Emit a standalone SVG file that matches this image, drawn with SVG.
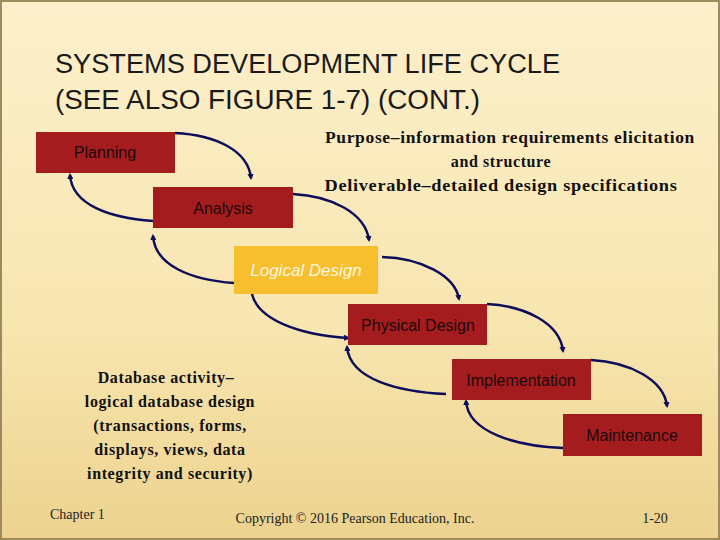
<svg xmlns="http://www.w3.org/2000/svg" width="720" height="540" viewBox="0 0 720 540">
<defs>
<linearGradient id="bg" x1="0" y1="0" x2="0" y2="1"><stop offset="0" stop-color="#fcf0cc"/><stop offset="0.6" stop-color="#f8e6b0"/><stop offset="1" stop-color="#ecd28e"/></linearGradient>
<marker id="ah" viewBox="0 0 6 6" refX="4" refY="3" markerWidth="2.5" markerHeight="2.5" orient="auto"><path d="M0,0 L6,3 L0,6 z" fill="#0d0d5c"/></marker>
<style>
.box{fill:#a51c1f}
.lbl{font-family:"Liberation Sans",Arial,sans-serif;font-size:16px;fill:#1a0a0a;text-anchor:middle}
.ser{font-family:"Liberation Serif","Times New Roman",serif;font-size:16px;font-weight:bold;fill:#111;text-anchor:middle;letter-spacing:0.6px}
.c{fill:none;stroke:#0d0d5c;stroke-width:2.5;marker-end:url(#ah)}
</style>
</defs>
<rect width="720" height="540" fill="url(#bg)"/>
<rect x="1" y="1" width="718" height="538" fill="none" stroke="#9c8a60" stroke-width="2"/>
<text x="55" y="73" font-family="'Liberation Sans',Arial,sans-serif" font-size="27" fill="#1a1a1a" textLength="505" lengthAdjust="spacingAndGlyphs">SYSTEMS DEVELOPMENT LIFE CYCLE</text>
<text x="55" y="109" font-family="'Liberation Sans',Arial,sans-serif" font-size="27" fill="#1a1a1a" textLength="425" lengthAdjust="spacingAndGlyphs">(SEE ALSO FIGURE 1-7) (CONT.)</text>
<g id="connectors">
<path class="c" d="M175,133 C215,135 248,150 251,178"/>
<path class="c" d="M153,221 C110,218 72,205 70,175"/>
<path class="c" d="M293,194 C330,196 365,212 369,240"/>
<path class="c" d="M234,283 C190,280 155,265 153,236"/>
<path class="c" d="M382,257 C420,258 455,275 459,299"/>
<path class="c" d="M252,294 C258,320 300,335 348,338"/>
<path class="c" d="M487,304 C525,306 560,323 563,351"/>
<path class="c" d="M446,394 C400,392 350,380 347,347"/>
<path class="c" d="M591,360 C630,362 664,380 667,406"/>
<path class="c" d="M563,448 C515,446 468,432 466,401"/>
</g>
<g id="planning"><rect class="box" x="36" y="132" width="139" height="41"/><text class="lbl" x="105" y="158">Planning</text></g>
<g id="analysis"><rect class="box" x="153" y="187" width="140" height="41"/><text class="lbl" x="223" y="214">Analysis</text></g>
<g id="logical"><rect x="234" y="246" width="144" height="48" fill="#f7be2e"/><text x="306" y="276" font-family="'Liberation Sans',Arial,sans-serif" font-size="17" font-style="italic" fill="#fff8e0" text-anchor="middle">Logical Design</text></g>
<g id="physical"><rect class="box" x="348" y="304" width="139" height="41"/><text class="lbl" x="418" y="331">Physical Design</text></g>
<g id="implementation"><rect class="box" x="452" y="359" width="139" height="41"/><text class="lbl" x="521" y="386">Implementation</text></g>
<g id="maintenance"><rect class="box" x="563" y="414" width="139" height="42"/><text class="lbl" x="632" y="441">Maintenance</text></g>
<g id="purpose">
<text class="ser" x="510" y="143" textLength="370" lengthAdjust="spacingAndGlyphs">Purpose–information requirements elicitation</text>
<text class="ser" x="501" y="167">and structure</text>
<text class="ser" x="501" y="191" textLength="353" lengthAdjust="spacingAndGlyphs">Deliverable–detailed design specifications</text>
</g>
<g id="activity">
<text class="ser" x="166" y="383">Database activity–</text>
<text class="ser" x="170" y="407">logical database design</text>
<text class="ser" x="170" y="431">(transactions, forms,</text>
<text class="ser" x="170" y="455">displays, views, data</text>
<text class="ser" x="170" y="479">integrity and security)</text>
</g>
<text x="50" y="519" font-family="'Liberation Serif',serif" font-size="14" fill="#222">Chapter 1</text>
<text x="355" y="523" font-family="'Liberation Serif',serif" font-size="14" fill="#222" text-anchor="middle">Copyright © 2016 Pearson Education, Inc.</text>
<text x="655" y="523" font-family="'Liberation Serif',serif" font-size="14" fill="#222" text-anchor="middle">1-20</text>
</svg>
